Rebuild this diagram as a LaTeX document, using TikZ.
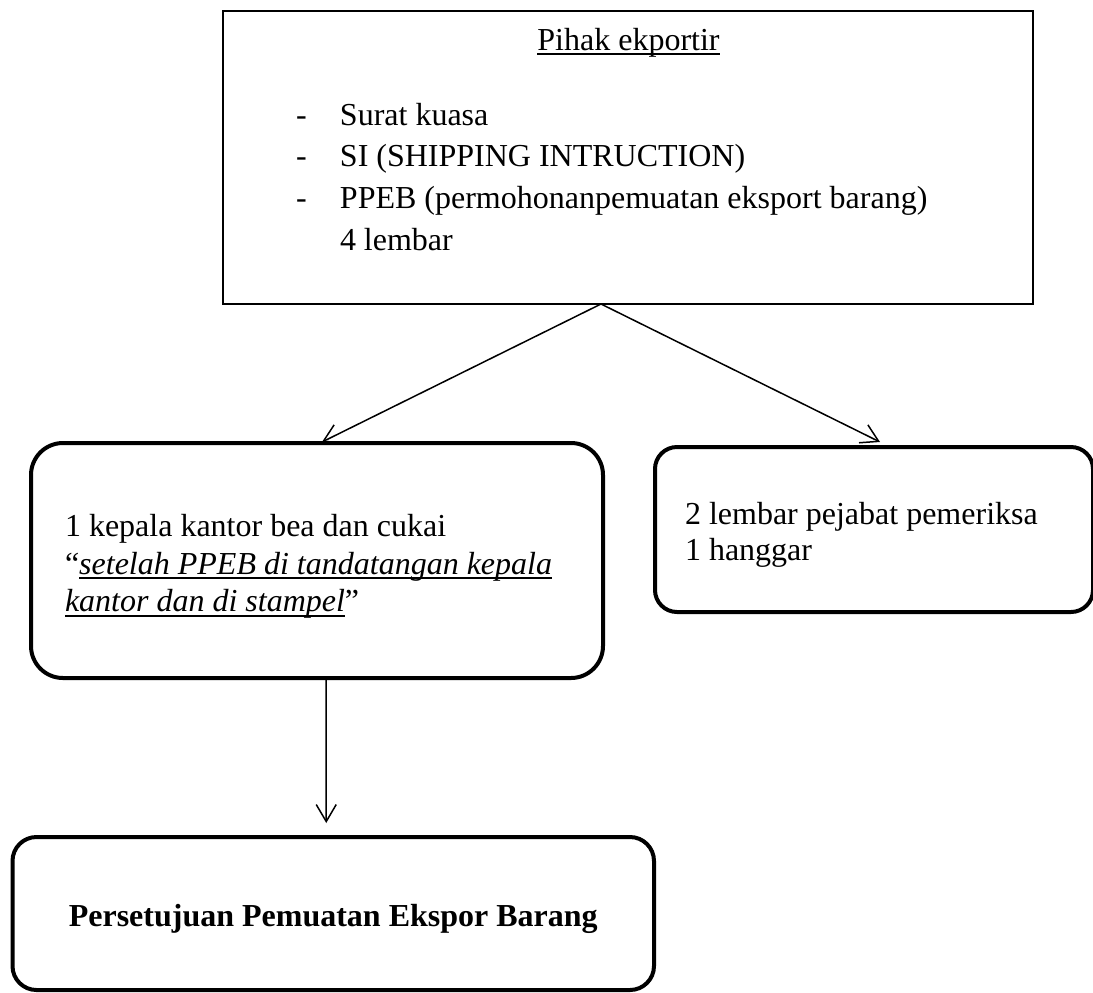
\documentclass[tikz,border=0pt]{standalone}
\usepackage{fontspec}
\setmainfont{Liberation Serif}
\usetikzlibrary{arrows.meta}
\newcommand{\garis}[1]{\leavevmode\setbox0\hbox{#1}\rlap{\rule[-2.5pt]{\wd0}{0.9pt}}\box0}

\begin{document}
\begin{tikzpicture}[x=0.5pt, y=-0.5pt, inner sep=0, outer sep=0, line width=0.75pt,
  >={Straight Barb[length=8.5pt, width=10pt]},
  font=\fontsize{16}{18.75}\selectfont]
  \useasboundingbox (0,0) rectangle (1093,992);
% PIHAK EKSPORTIR
  \node[rectangle, draw=black, line width=0.7pt,
    minimum width = 405pt,
    minimum height = 146.5pt] (eksportir) at (628,157.5) {};
  \node[anchor=base] (judul) at (628.5,50) {\garis{Pihak ekportir}};
  \node[anchor=base west, align=left,
    font=\fontsize{16}{20.8}\selectfont] (dokumen) at (296,250)
    {\makebox[22pt][l]{-}Surat kuasa\\
     \makebox[22pt][l]{-}SI (SHIPPING INTRUCTION)\\
     \makebox[22pt][l]{-}PPEB (permohonanpemuatan eksport barang)\\
     \hspace*{22pt}4 lembar};

% TUJUAN
  \node[rectangle, rounded corners=16pt, draw=black, line width=2pt,
    align=flush left,
    text width = 252pt,
    minimum height = 117.5pt,
    minimum width = 286pt] (kepala) at (317,560.5)
    {\rule{0pt}{17pt}1 kepala kantor bea dan cukai\\
     “\garis{\textit{setelah PPEB di tandatangan kepala}}\\
     \garis{\textit{kantor dan di stampel}}”};
  \node[rectangle, rounded corners=11pt, draw=black, line width=2pt,
    align=flush left,
    text width = 189pt,
    minimum height = 82.5pt,
    minimum width = 219pt,
    font=\fontsize{16}{18}\selectfont] (pejabat) at (874,529.5)
    {\rule{0pt}{16pt}2 lembar pejabat pemeriksa\\
     1 hanggar};
  \node[rectangle, rounded corners=12pt, draw=black, line width=2pt,
    align=center,
    minimum height = 76.5pt,
    minimum width = 320.75pt] (persetujuan) at (333.25,913.5)
    {\rule{0pt}{17pt}\textbf{Persetujuan Pemuatan Ekspor Barang}};

  \draw[->] ([xshift=-13.5pt]eksportir.south) -- ([xshift=2.5pt, yshift=0.5pt]kepala.north);
  \draw[->] ([xshift=-13.5pt]eksportir.south) -- ([xshift=3pt, yshift=2.5pt]pejabat.north);
  \draw[->] ([xshift=4.5pt]kepala.south) -- ([xshift=-3.5pt, yshift=7pt]persetujuan.north);
\end{tikzpicture}
\end{document}
